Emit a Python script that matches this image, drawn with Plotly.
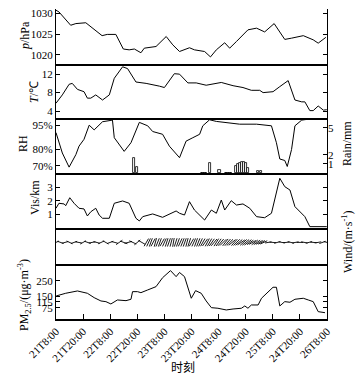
import numpy as np
import plotly.graph_objects as go

# ---------------- data (hours since 21T8:00) ----------------
tick_hours = [0, 12, 24, 36, 48, 60, 72, 84, 96, 108, 120]
tick_labels = ["21T8:00", "21T20:00", "22T8:00", "22T20:00", "23T8:00", "23T20:00",
               "24T8:00", "24T20:00", "25T8:00", "24T20:00", "26T8:00"]

p_hours = [0, 1.3, 6.5, 8.8, 13.2, 14.7, 18.4, 20.4, 22.7, 26.5, 29.8, 32.4, 34.7, 37.6, 39.1,
           44.3, 48.8, 51.7, 54.7, 56.9, 59.1, 61.3, 65.8, 68.4, 71, 74.7, 76.9, 79.9, 85, 88.8,
           92.4, 96.6, 101.3, 104.3, 109.5, 113.9, 116.1, 119.5]
p_vals = [1030.7, 1030.3, 1027.1, 1027.5, 1027.7, 1027.1, 1025.5, 1024.6, 1024.9, 1024.9, 1021.4,
          1021.2, 1021.4, 1020.5, 1021.6, 1022.0, 1024.4, 1022.4, 1020.8, 1021.2, 1021.7, 1021.2,
          1020.8, 1019.5, 1021.2, 1022.9, 1021.6, 1023.2, 1026.0, 1026.4, 1025.5, 1027.5, 1023.7,
          1024.0, 1024.6, 1023.6, 1022.8, 1024.2]

t_hours = [0, 2.8, 5.8, 7.2, 9.5, 12.4, 13.9, 15.4, 17.6, 20.6, 23.6, 25.8, 29.5, 31.7, 35.4, 39.9,
           45.8, 48, 52.4, 54.7, 58.4, 62.1, 66.5, 73.2, 78.4, 82.8, 86.5, 90.2, 91.7, 96.1, 99.1,
           102.8, 105.8, 108.8, 110.2, 112.4, 113.9, 116.1, 118.4, 119.9]
t_vals = [5.7, 7.5, 9.8, 10.0, 8.7, 8.2, 6.8, 6.8, 7.5, 6.4, 7.5, 11.1, 13.6, 13.2, 10.3, 10.0, 9.4,
          9.1, 12.1, 12.0, 10.1, 10.1, 9.6, 10.2, 9.5, 9.1, 8.5, 8.5, 8.0, 8.2, 9.3, 10.6, 6.4, 6.0,
          6.0, 4.1, 4.1, 5.1, 4.2, 4.3]

rh_hours = [0, 1.3, 2.8, 5.8, 8.8, 10.2, 12.4, 14.7, 16.9, 20.6, 24.3, 25.0, 25.8, 30.2, 33.2, 36.9,
            40.6, 42.8, 47.2, 50.2, 54.7, 57.6, 60.6, 63.6, 65.0, 68.0, 71.0, 75.4, 81.3, 88.8, 95.4,
            97.6, 99.1, 101.3, 102.4, 104.3, 105.8, 108.8, 112.4, 119.6]
rh_vals = [90.4, 84.2, 77.9, 69.2, 76.9, 82.1, 86.3, 95.0, 92.1, 97.1, 98.3, 98.1, 87.3, 78.9, 84.2,
           96.7, 94.6, 91.1, 89.4, 82.1, 75.0, 85.2, 87.3, 89.4, 94.6, 98.3, 97.3, 96.7, 95.6, 95.6,
           94.6, 84.2, 74.2, 73.3, 69.6, 80.0, 94.6, 98.1, 98.8, 99.2]

rain_hours = [34.7, 36.0, 64.5, 65.5, 66.5, 68.2, 72.4, 75.5, 76.5, 77.5, 79.5, 80.4, 81.3, 82.2,
              83.1, 84.0, 85.1, 89.3, 90.7]
rain_vals = [1.7, 0.65, 0.05, 0.05, 0.05, 1.1, 0.35, 0.05, 0.05, 0.05, 0.8, 1.0, 1.1, 1.2, 1.2, 1.1,
             0.6, 0.25, 0.2]

vis_hours = [0, 1.3, 3.6, 4.3, 6.1, 8, 10.2, 12.4, 13.9, 15.4, 17.6, 19.1, 20.6, 23.6, 25.8, 29.5,
             32.4, 33.9, 35.4, 36.9, 38.4, 42.8, 47.2, 53.2, 54.7, 56.9, 59.1, 61.3, 62.8, 65.8,
             68.8, 71, 73.2, 74.7, 77.6, 79.9, 82.8, 85.8, 88.8, 92.4, 95.4, 96.9, 99.1, 101.3,
             103.6, 105.8, 108, 110.2, 112.4, 119.9]
vis_vals = [1.46, 1.83, 1.78, 1.65, 2.24, 1.83, 1.46, 1.41, 0.89, 1.2, 1.46, 0.96, 0.72, 0.72, 1.83,
            2.0, 1.83, 1.33, 0.72, 0.52, 0.84, 1.04, 0.79, 1.26, 1.09, 0.96, 1.95, 1.33, 1.09, 0.59,
            1.33, 1.09, 2.07, 1.33, 2.02, 1.7, 1.78, 1.46, 0.84, 0.76, 1.09, 2.2, 3.68, 3.06, 2.81,
            1.58, 1.2, 0.84, 0.1, 0.1]

wind_hours = [0, 2, 4, 6, 8, 10, 12, 14, 16, 18, 20, 22, 24, 26, 28, 30, 32, 34, 36, 38,
              40, 41, 42, 43, 44, 45, 46, 47, 48, 49, 50, 51, 52, 53, 54, 55, 56, 57, 58, 59,
              60, 61, 62, 63, 64, 65, 66, 67, 68, 69, 70, 71, 72, 73, 74, 75, 76, 77, 78, 79,
              80, 81, 82, 83, 84, 85, 86, 87, 88, 89, 90, 91, 92,
              94, 96, 98, 100, 102, 104, 106, 108, 110, 112, 114, 116, 118, 120]
wind_dir = [25, -20, 15, -25, 20, -10, 30, -20, 10, -15, 25, -30, 20, -15, 35, -20, 15, -25, 40, -30,
            60, 65, 70, 62, 75, 68, 70, 60, 65, 72, 70, 75, 80, 72, 70, 65, 68, 70, 75, 72,
            60, 65, 70, 68, 65, 60, 55, 62, 60, 55, 50, 58, 55, 50, 45, 52, 50, 45, 40, 48,
            45, 40, 35, 42, 40, 38, 35, 30, 38, 35, 30, 28, 25,
            10, -5, 15, -10, 5, -15, 10, 0, -10, 15, -5, 10, 20, -15]
wind_speed = [3, 3, 3, 3, 3, 3, 3, 3, 3, 3, 3, 3, 3, 3, 3.5, 3.5, 3.5, 3.5, 3.5, 3.5,
              4, 4, 4, 4, 4, 4, 4, 4, 4, 4, 4, 4, 4, 4, 4, 4, 4, 4, 4, 4,
              4, 4, 4, 4, 4, 4, 4, 4, 4, 4, 4, 4, 4, 4, 4, 4, 4, 4, 4, 4,
              4, 4, 4, 4, 4, 4, 3.5, 3.5, 3.5, 3.5, 3.5, 3.5, 3.5,
              3, 3, 3, 3, 3, 3, 3, 3, 3, 3, 3, 3, 3, 3]

pm_hours = [0.1, 4.3, 9.5, 13.9, 16.9, 19.9, 22.1, 24.3, 27.2, 31, 33.2, 33.9, 36.1, 37.6, 40.6, 44.3,
            47.2, 50.7, 53.2, 54.7, 56.9, 59.9, 61.8, 64.3, 66.5, 68.8, 71.7, 75.4, 78.4, 82.1, 83.6,
            85, 86.5, 89.5, 91, 93.9, 96.1, 97.6, 99.1, 101.3, 103.6, 105.8, 109.5, 111.7, 113.9,
            116.1, 119.1]
pm_vals = [152.6, 170, 185, 170, 141.6, 120, 115.6, 100.6, 126.6, 122, 131, 180.5, 180.5, 174, 191.6,
           213, 271, 317, 278, 305, 278, 137.7, 187, 170, 120, 76.6, 72.7, 61.7, 68, 72.7, 87.7,
           72.7, 94, 94, 137.7, 180.5, 209, 209, 87.7, 115.6, 111.7, 131, 137.7, 126.6, 115.6, 50.7,
           44]

# ---------------- figure ----------------
W, H = 360, 378
ML, MR, MT, MB = 56, 33, 9, 59
PW, PH = W - ML - MR, H - MT - MB
FONT = "Liberation Serif, Times New Roman, serif"
LC = "black"


def dom(top_px, bot_px):
    return [(MT + PH - bot_px) / PH, (MT + PH - top_px) / PH]


doms = [dom(9, 64), dom(64, 118), dom(118, 173), dom(173, 228), dom(228, 264), dom(264, 319)]
line = dict(color=LC, width=1)

fig = go.Figure()
fig.add_trace(go.Scatter(x=p_hours, y=p_vals, mode="lines", line=line, xaxis="x", yaxis="y"))
fig.add_trace(go.Scatter(x=t_hours, y=t_vals, mode="lines", line=line, xaxis="x2", yaxis="y2"))
fig.add_trace(go.Bar(x=rain_hours, y=rain_vals, width=0.9,
                     marker=dict(color="white", line=dict(color=LC, width=0.8)),
                     xaxis="x3", yaxis="y7"))
fig.add_trace(go.Scatter(x=rh_hours, y=rh_vals, mode="lines", line=line, xaxis="x3", yaxis="y3"))
fig.add_trace(go.Scatter(x=vis_hours, y=vis_vals, mode="lines", line=line, xaxis="x4", yaxis="y4"))

# wind: short segments oriented by direction, length by speed
hpp = 120.0 / PW          # hours per pixel
upp = 2.0 / (264 - 228)   # wind-axis units per pixel
wx, wy = [], []
y0 = 0.2
for h, d, s in zip(wind_hours, wind_dir, wind_speed):
    L = 2.2 * s
    a = np.deg2rad(d)
    dx = 0.5 * L * np.cos(a) * hpp
    dy = 0.5 * L * np.sin(a) * upp
    wx += [h - dx, h + dx, None]
    wy += [y0 - dy, y0 + dy, None]
fig.add_trace(go.Scatter(x=wx, y=wy, mode="lines", line=dict(color=LC, width=0.9),
                         xaxis="x5", yaxis="y5"))

fig.add_trace(go.Scatter(x=pm_hours, y=pm_vals, mode="lines", line=line, xaxis="x6", yaxis="y6"))

tickfont = dict(family=FONT, size=11, color="black")
layout = dict(
    width=W, height=H, margin=dict(l=ML, r=MR, t=MT, b=MB, autoexpand=False),
    paper_bgcolor="white", plot_bgcolor="white", showlegend=False,
    font=dict(family=FONT, size=11, color="black"),
)

for i in range(6):
    xa = "xaxis" if i == 0 else f"xaxis{i+1}"
    ya_name = "y" if i == 0 else f"y{i+1}"
    last = (i == 5)
    layout[xa] = dict(
        domain=[0, 1], range=[0, 120], anchor=ya_name, showgrid=False, zeroline=False,
        showline=True, linecolor=LC, linewidth=1.6, automargin=False,
        tickvals=tick_hours, ticktext=tick_labels,
        ticks="inside" if last else "", ticklen=5, tickcolor=LC,
        showticklabels=last, tickangle=-45, tickfont=tickfont,
    )

yspecs = [
    dict(range=[1017.8, 1031.0], tickvals=[1020, 1025, 1030]),
    dict(range=[2.5, 14.2], tickvals=[4, 8, 12]),
    dict(range=[65.6, 99.4], tickvals=[70, 80, 95], ticktext=["70%", "80%", "95%"]),
    dict(range=[0, 4.07], tickvals=[1, 2, 3]),
    dict(range=[-1, 1], tickvals=[]),
    dict(range=[3, 360], tickvals=[75, 115, 150, 250]),
]
for i, spec in enumerate(yspecs):
    ya = "yaxis" if i == 0 else f"yaxis{i+1}"
    xa_name = "x" if i == 0 else f"x{i+1}"
    d = dict(domain=doms[i], anchor=xa_name, showgrid=False, zeroline=False,
             showline=True, linecolor=LC, linewidth=1.2, automargin=False,
             mirror="ticks" if i != 2 else True,
             ticks="inside", ticklen=4, tickcolor=LC, tickfont=tickfont)
    d.update(spec)
    layout[ya] = d

layout["yaxis7"] = dict(overlaying="y3", side="right", anchor="x3", range=[0, 6.1],
                        tickvals=[1, 2, 5], ticks="inside", ticklen=4, tickcolor=LC,
                        showgrid=False, zeroline=False, showline=False, automargin=False,
                        tickfont=tickfont)

fig.update_layout(**layout)
fig.update_layout(bargap=0)


def px_x(xp):
    return (xp - ML) / PW


def px_y(yp):
    return (MT + PH - yp) / PH


titles = [
    ("<i>p</i>/hPa", 25, 36),
    ("<i>T</i>/℃", 34, 92),
    ("RH", 23, 144),
    ("Vis/km", 35, 198),
    ("PM<sub>2.5</sub>/(μg·m<sup>-3</sup>)", 24, 295),
    ("Rain/mm", 347, 144),
    ("Wind/(m·s<sup>-1</sup>)", 347, 242),
]
for txt, xp, yp in titles:
    fig.add_annotation(text=txt, x=px_x(xp), y=px_y(yp), xref="paper", yref="paper",
                       textangle=-90, showarrow=False, xanchor="center", yanchor="middle",
                       font=dict(family=FONT, size=12, color="black"))

fig.add_annotation(text="时刻", x=px_x(183), y=px_y(366), xref="paper", yref="paper",
                   showarrow=False, xanchor="center", yanchor="middle",
                   font=dict(family="Noto Sans CJK SC", size=12, color="black"))

fig.write_html("out.html", config={"displayModeBar": False},
               post_script="document.body.style.margin='0';document.body.style.padding='0';")
